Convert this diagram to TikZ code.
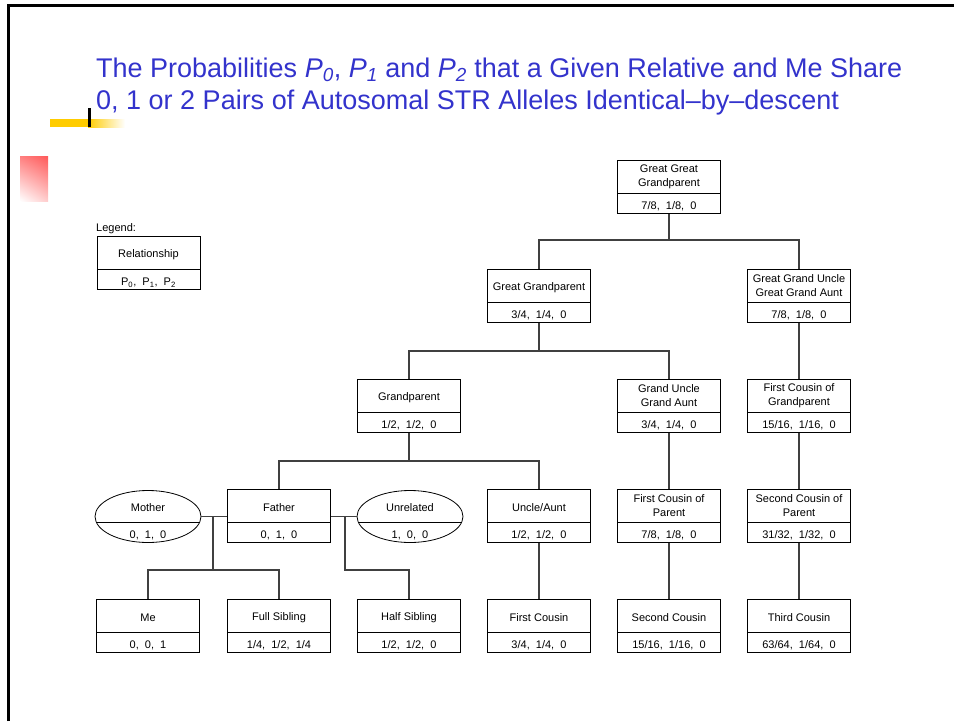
\documentclass[tikz,border=0pt]{standalone}
\usepackage{fontspec}
\setmainfont{Liberation Sans}
\usetikzlibrary{positioning,shapes.geometric,shadings}
\definecolor{titleblue}{RGB}{51,51,204}
\definecolor{baryellow}{RGB}{255,204,0}

\begin{document}
\begin{tikzpicture}[
  x=1pt, y=-1pt,
  every node/.style={font=\fontsize{11}{14}\selectfont, inner sep=0pt},
  relbox/.style={draw, line width=0.8pt, minimum width=103pt,
    minimum height=33pt, align=center,
    execute at begin node={\rule{0pt}{12pt}}},
  valbox/.style={draw, line width=0.8pt, minimum width=103pt,
    minimum height=20pt, text height=12pt, text depth=0pt},
  valtext/.style={text height=12pt, text depth=0pt},
  reloval/.style={draw, ellipse, line width=0.8pt, minimum width=106pt,
    minimum height=52pt,
    path picture={\draw[line width=0.8pt]
      ([yshift=-5.5pt]path picture bounding box.west) --
      ([yshift=-5.5pt]path picture bounding box.east);}},
  link/.style={line width=1.2pt, black!75},
  titletext/.style={anchor=base west, text=titleblue,
    font=\fontsize{27}{32}\selectfont},
]
\useasboundingbox (0,0) rectangle (954,721);

% slide frame and decorations
\draw[line width=2.5pt] (8.5,721) -- (8.5,5.5) -- (954,5.5);
\fill[baryellow] (50,119) rectangle (88,127);
\shade[left color=baryellow, right color=white] (88,119) rectangle (125,127);
\draw[line width=3pt] (89.5,108) -- (89.5,127);
\shade[upper left=red!50, upper right=red!65, lower left=white,
  lower right=red!20] (20,156) rectangle (48,201);

% title
\node[titletext] (title) at (96,77)
  {The Probabilities \textit{P\textsubscript{0}}, \textit{P\textsubscript{1}}
   and \textit{P\textsubscript{2}} that a Given Relative and Me Share};
\node[titletext] (title-2) at (96,109.5)
  {0, 1 or 2 Pairs of Autosomal STR Alleles Identical--by--descent};

% legend
\node[anchor=base west] (legend) at (96,231) {Legend:};
\node[relbox] (key) at (148.5,252.5) {Relationship};
\node[valbox, below=0pt of key] (key-v)
  {P\textsubscript{0},\ \ P\textsubscript{1},\ \ P\textsubscript{2}};

% ancestors
\node[relbox] (ggg) at (669,176.5) {Great Great\\Grandparent};
\node[valbox, below=0pt of ggg] (ggg-v) {7/8,\ \ 1/8,\ \ 0};
\node[relbox] (gg) at (539,285.5) {Great Grandparent};
\node[valbox, below=0pt of gg] (gg-v) {3/4,\ \ 1/4,\ \ 0};
\node[relbox] (ggua) at (799,285.5) {Great Grand Uncle\\Great Grand Aunt};
\node[valbox, below=0pt of ggua] (ggua-v) {7/8,\ \ 1/8,\ \ 0};
\node[relbox] (gp) at (409,395.5) {Grandparent};
\node[valbox, below=0pt of gp] (gp-v) {1/2,\ \ 1/2,\ \ 0};
\node[relbox] (gua) at (669,395.5) {Grand Uncle\\Grand Aunt};
\node[valbox, below=0pt of gua] (gua-v) {3/4,\ \ 1/4,\ \ 0};
\node[relbox] (fcgp) at (799,395.5) {First Cousin of\\Grandparent};
\node[valbox, below=0pt of fcgp] (fcgp-v) {15/16,\ \ 1/16,\ \ 0};

% parents' generation
\node[reloval] (mom) at (148,516.5) {};
\node[valtext] (mom-t) at (148,505.7) {Mother};
\node[valtext] (mom-v) at (148,532.5) {0,\ \ 1,\ \ 0};
\node[relbox] (dad) at (279,505.5) {Father};
\node[valbox, below=0pt of dad] (dad-v) {0,\ \ 1,\ \ 0};
\node[reloval] (unrel) at (410,516.5) {};
\node[valtext] (unrel-t) at (410,505.7) {Unrelated};
\node[valtext] (unrel-v) at (410,532.5) {1,\ \ 0,\ \ 0};
\node[relbox] (ua) at (539,505.5) {Uncle/Aunt};
\node[valbox, below=0pt of ua] (ua-v) {1/2,\ \ 1/2,\ \ 0};
\node[relbox] (fcp) at (669,505.5) {First Cousin of\\Parent};
\node[valbox, below=0pt of fcp] (fcp-v) {7/8,\ \ 1/8,\ \ 0};
\node[relbox] (scp) at (799,505.5) {Second Cousin of\\Parent};
\node[valbox, below=0pt of scp] (scp-v) {31/32,\ \ 1/32,\ \ 0};

% my generation
\node[relbox] (me) at (148,615.5) {Me};
\node[valbox, below=0pt of me] (me-v) {0,\ \ 0,\ \ 1};
\node[relbox] (sib) at (279,615.5) {Full Sibling};
\node[valbox, below=0pt of sib] (sib-v) {1/4,\ \ 1/2,\ \ 1/4};
\node[relbox] (half) at (409,615.5) {Half Sibling};
\node[valbox, below=0pt of half] (half-v) {1/2,\ \ 1/2,\ \ 0};
\node[relbox] (fc) at (539,615.5) {First Cousin};
\node[valbox, below=0pt of fc] (fc-v) {3/4,\ \ 1/4,\ \ 0};
\node[relbox] (sc) at (669,615.5) {Second Cousin};
\node[valbox, below=0pt of sc] (sc-v) {15/16,\ \ 1/16,\ \ 0};
\node[relbox] (tc) at (799,615.5) {Third Cousin};
\node[valbox, below=0pt of tc] (tc-v) {63/64,\ \ 1/64,\ \ 0};

% junctions
\coordinate (j-ggg) at (669,240);
\coordinate (j-gg) at (539,351);
\coordinate (j-gp) at (409,461);
\coordinate (j-me) at (213,570);
\coordinate (j-half) at (345,570);

% descent lines
\draw[link] (ggg-v.south) -- (j-ggg);
\draw[link] (gg.north) |- (j-ggg) -| (ggua.north);
\draw[link] (gg-v.south) -- (j-gg);
\draw[link] (gp.north) |- (j-gg) -| (gua.north);
\draw[link] (gp-v.south) -- (j-gp);
\draw[link] (dad.north) |- (j-gp) -| (ua.north);
\draw[link] (ggua-v.south) -- (fcgp.north);
\draw[link] (gua-v.south) -- (fcp.north);
\draw[link] (fcgp-v.south) -- (scp.north);
\draw[link] (mom.east) -- (mom.east -| dad.west);
\draw[link] (j-me |- mom.east) -- (j-me);
\draw[link] (me.north) |- (j-me) -| (sib.north);
\draw[link] (dad.east |- unrel.west) -- (unrel.west);
\draw[link] (j-half |- unrel.west) -- (j-half) -| (half.north);
\draw[link] (ua-v.south) -- (fc.north);
\draw[link] (fcp-v.south) -- (sc.north);
\draw[link] (scp-v.south) -- (tc.north);
\end{tikzpicture}
\end{document}
